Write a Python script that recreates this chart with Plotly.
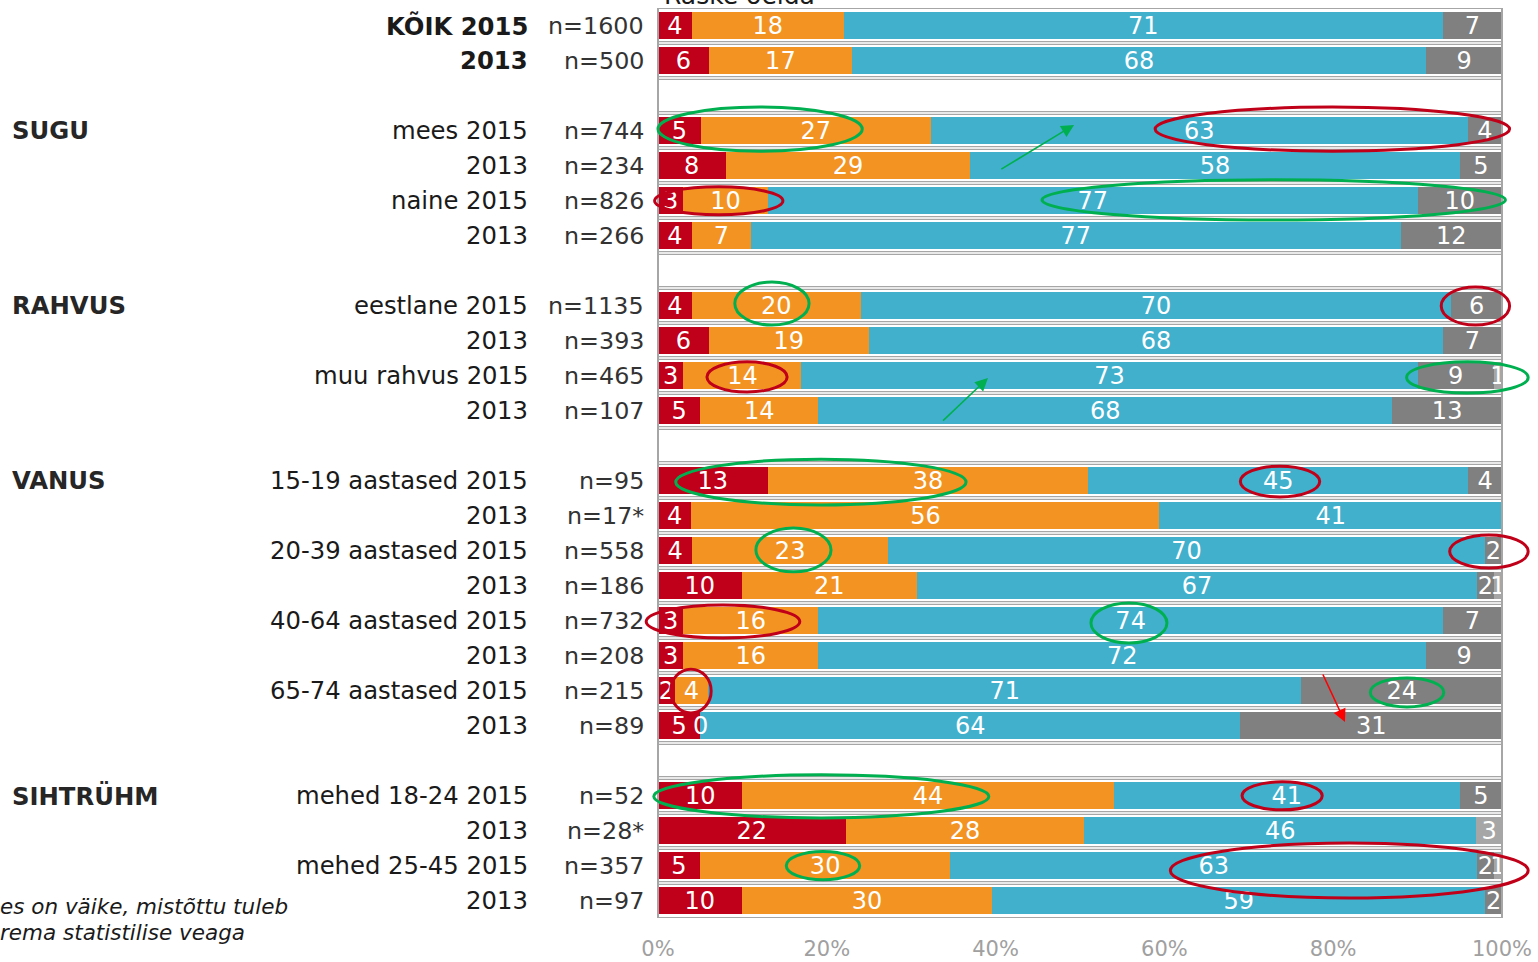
import plotly.graph_objects as go

# ---------------- data ----------------
group_names = ["", "SUGU", "RAHVUS", "VANUS", "SIHTRÜHM"]
group_sizes = [2, 4, 4, 8, 4]

row_labels = [
    "KÕIK 2015", "2013",
    "mees 2015", "2013", "naine 2015", "2013",
    "eestlane 2015", "2013", "muu rahvus 2015", "2013",
    "15-19 aastased 2015", "2013", "20-39 aastased 2015", "2013",
    "40-64 aastased 2015", "2013", "65-74 aastased 2015", "2013",
    "mehed 18-24 2015", "2013", "mehed 25-45 2015", "2013",
]
n_labels = [
    "n=1600", "n=500",
    "n=744", "n=234", "n=826", "n=266",
    "n=1135", "n=393", "n=465", "n=107",
    "n=95", "n=17*", "n=558", "n=186",
    "n=732", "n=208", "n=215", "n=89",
    "n=52", "n=28*", "n=357", "n=97",
]
bold_rows = [0, 1]

series_names = ["s1", "s2", "s3", "Raske öelda", "s5"]
series_colors = ["#C0001A", "#F39322", "#40B0CD", "#808080", "#A6A6A6"]
show_zero = [True, True, True, False, False]

s1 = [4, 6, 5, 8, 3, 4, 4, 6, 3, 5, 13, 4, 4, 10, 3, 3, 2, 5, 10, 22, 5, 10]
s2 = [18, 17, 27, 29, 10, 7, 20, 19, 14, 14, 38, 56, 23, 21, 16, 16, 4, 0, 44, 28, 30, 30]
s3 = [71, 68, 63, 58, 77, 77, 70, 68, 73, 68, 45, 41, 70, 67, 74, 72, 71, 64, 41, 46, 63, 59]
s4 = [7, 9, 4, 5, 10, 12, 6, 7, 9, 13, 4, 0, 2, 2, 7, 9, 24, 31, 5, 0, 2, 2]
s5 = [0, 0, 0, 0, 0, 0, 0, 0, 1, 0, 0, 0, 0, 1, 0, 0, 0, 0, 0, 3, 1, 0]
series_values = [s1, s2, s3, s4, s5]

tick_vals = [0, 20, 40, 60, 80, 100]
tick_text = ["0%", "20%", "40%", "60%", "80%", "100%"]

legend_fragment = "Raske öelda"
footnote_lines = ["es on väike, mistõttu tuleb", "rema statistilise veaga"]

# ---------------- positions (one empty slot between groups) ----------------
positions = []
group_first_pos = []
slot = 0
for gi, size in enumerate(group_sizes):
    if gi > 0:
        slot += 1
    group_first_pos.append(slot)
    for _ in range(size):
        positions.append(slot)
        slot += 1
n_slots = slot

FONT = "DejaVu Sans"
fig = go.Figure()
for name, color, vals, sz in zip(series_names, series_colors, series_values, show_zero):
    texts = [str(v) if v > 0 else "" for v in vals]
    fig.add_trace(go.Bar(
        y=positions, x=vals, orientation="h", name=name,
        marker=dict(color=color, line=dict(width=0)),
        text=texts, textposition="inside", insidetextanchor="middle", textangle=0,
        textfont=dict(color="white", size=24, family=FONT),
        constraintext="none", cliponaxis=False, hoverinfo="skip",
    ))

# plot area in pixels
L, R, T, B = 658, 36, 8, 44
W, H = 1538, 962
PW = W - L - R
PH = H - T - B
XMAX = 100.0005


def px2paper(px):
    return (px - L) / PW


def row2paper(r):
    return 1 - (r + 0.5) / n_slots


shapes = []
# double gray separators at every row boundary
for i in range(n_slots - 1):
    for off in (-0.04, 0.04):
        shapes.append(dict(type="line", xref="paper", yref="y", x0=0, x1=1,
                           y0=i + 0.5 + off, y1=i + 0.5 + off,
                           line=dict(color="#A6A6A6", width=1.2), layer="below"))
# frame
for (x0, x1, y0, y1) in [(0, 1, -0.5, -0.5), (0, 1, n_slots - 0.5, n_slots - 0.5),
                         (0, 0, -0.5, n_slots - 0.5), (1, 1, -0.5, n_slots - 0.5)]:
    shapes.append(dict(type="line", xref="paper", yref="y", x0=x0, x1=x1, y0=y0, y1=y1,
                       line=dict(color="#A6A6A6", width=2)))

GREEN = "#00B050"
RED = "#C00018"
ellipses = [
    (GREEN, 0, 24.2, 2.33, 3.59),
    (RED, 58.9, 100.9, 2.33, 3.59),
    (RED, -0.4, 14.8, 4.61, 5.41),
    (GREEN, 45.5, 100.4, 4.41, 5.56),
    (GREEN, 9.1, 17.9, 7.33, 8.56),
    (RED, 92.8, 100.9, 7.47, 8.56),
    (RED, 5.8, 15.3, 9.61, 10.47),
    (GREEN, 88.7, 103.1, 9.61, 10.5),
    (GREEN, 2.1, 36.5, 12.39, 13.7),
    (RED, 69.0, 78.4, 12.59, 13.47),
    (GREEN, 11.6, 20.5, 14.36, 15.61),
    (RED, 93.8, 103.1, 14.56, 15.5),
    (RED, -1.4, 16.8, 16.56, 17.5),
    (GREEN, 51.3, 60.3, 16.5, 17.64),
    (RED, 1.5, 6.3, 18.39, 19.64),
    (GREEN, 84.4, 93.1, 18.64, 19.47),
    (GREEN, -0.5, 39.2, 21.41, 22.64),
    (RED, 69.2, 78.7, 21.61, 22.41),
    (GREEN, 15.2, 23.9, 23.6, 24.41),
    (RED, 60.7, 103.1, 23.36, 24.93),
]
for c, x0, x1, y0, y1 in ellipses:
    shapes.append(dict(type="circle", xref="paper", yref="paper",
                       x0=x0 / 100, x1=x1 / 100, y0=row2paper(y0), y1=row2paper(y1),
                       line=dict(color=c, width=3), layer="above"))

annotations = []
TXT = "#1A1A1A"
for i, (lab, nl, pos) in enumerate(zip(row_labels, n_labels, positions)):
    bold = i in bold_rows
    annotations.append(dict(xref="paper", yref="y", x=px2paper(530), y=pos,
                            xanchor="right", yanchor="middle", showarrow=False,
                            text=f"<b>{lab}</b>" if bold else lab,
                            font=dict(family=FONT, size=24.3, color=TXT)))
    annotations.append(dict(xref="paper", yref="y", x=px2paper(646), y=pos,
                            xanchor="right", yanchor="middle", showarrow=False,
                            text=nl, font=dict(family=FONT, size=23.8, color="#333333")))
for gname, gpos in zip(group_names, group_first_pos):
    if gname:
        annotations.append(dict(xref="paper", yref="y", x=px2paper(10), y=gpos,
                                xanchor="left", yanchor="middle", showarrow=False,
                                text=f"<b>{gname}</b>",
                                font=dict(family=FONT, size=24.3, color="#262626")))

# labels for zero-width segments (drawn at the segment's stacked position)
for r, pos in enumerate(positions):
    vals = [sv[r] for sv in series_values]
    total = sum(vals)
    for k, v in enumerate(vals):
        if v == 0 and show_zero[k]:
            xcum = 100 * sum(vals[:k]) / total
            annotations.append(dict(xref="x", yref="y", x=xcum, y=pos, xanchor="center",
                                    yanchor="middle", showarrow=False, text="0",
                                    font=dict(family=FONT, size=24, color="white")))

# arrows
arrows = [
    (GREEN, 40.5, 4.13, 49.3, 2.84),
    (GREEN, 33.6, 11.33, 39.1, 10.07),
    ("#FF0000", 78.7, 18.5, 81.4, 19.9),
]
for c, ax, ay, x, y in arrows:
    annotations.append(dict(xref="x", yref="y", axref="x", ayref="y", x=x, y=y, ax=ax, ay=ay,
                            showarrow=True, arrowhead=2, arrowsize=1.6, arrowwidth=1.6,
                            arrowcolor=c, text=""))

# truncated legend text at top (cut by the page edge, as in the source)
annotations.append(dict(xref="paper", yref="paper", x=px2paper(662), y=1,
                        xanchor="left", yanchor="bottom", showarrow=False, text=legend_fragment,
                        font=dict(family=FONT, size=25, color=TXT), yshift=-4))
# footnote (cut at the left)
for k, line in enumerate(footnote_lines):
    annotations.append(dict(xref="paper", yref="paper", x=px2paper(-2), y=0,
                            xanchor="left", yanchor="middle", showarrow=False,
                            yshift=(H - B) - [906, 932][k],
                            text=f"<i>{line}</i>",
                            font=dict(family=FONT, size=21.5, color=TXT)))

fig.update_layout(
    width=W, height=H,
    margin=dict(l=L, r=R, t=T, b=B, pad=0, autoexpand=False),
    plot_bgcolor="white", paper_bgcolor="white",
    barmode="stack", barnorm="percent", bargap=0.25,
    showlegend=False,
    uniformtext=dict(minsize=24, mode="show"),
    font=dict(family=FONT),
    shapes=shapes, annotations=annotations,
    xaxis=dict(range=[0, XMAX], tickmode="array", tickvals=tick_vals, ticktext=tick_text,
               showgrid=False, zeroline=False, showline=False, ticks="", ticklabelstandoff=16,
               automargin=False,
               tickfont=dict(family=FONT, size=21, color="#A0A0A0"), fixedrange=True),
    yaxis=dict(range=[n_slots - 0.5, -0.5], showticklabels=False, showgrid=False,
               zeroline=False, showline=False, ticks="", fixedrange=True, automargin=False),
)

fig.write_html("out.html", config={"displayModeBar": False},
               post_script="document.body.style.margin='0';")
